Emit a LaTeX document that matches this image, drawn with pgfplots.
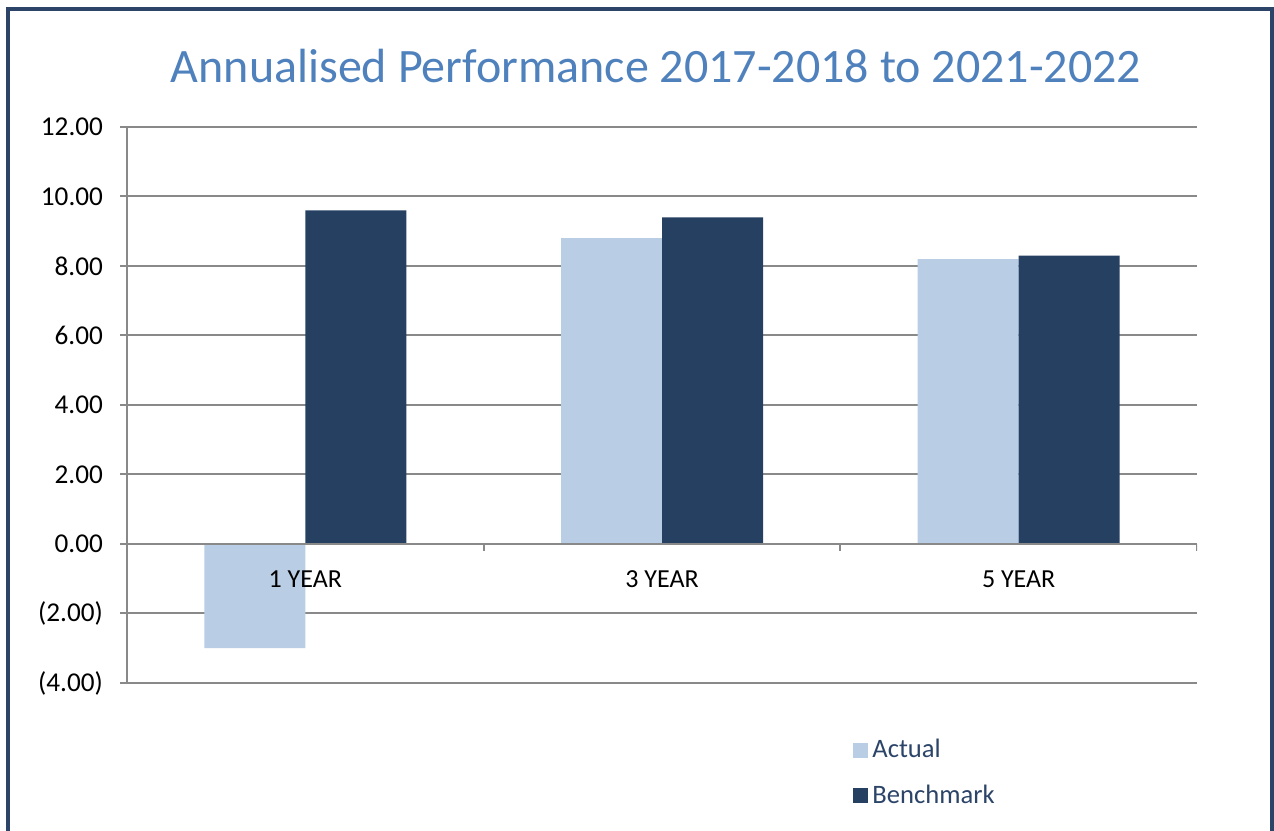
\documentclass[border=0pt]{standalone}
\usepackage{pgfplots}
\pgfplotsset{compat=1.18}
\usepackage{fontspec}
\setmainfont{Carlito}
\definecolor{actual}{HTML}{B9CDE5}
\definecolor{bench}{HTML}{254061}
\definecolor{gridgray}{HTML}{898989}
\definecolor{framec}{HTML}{2B4468}
\definecolor{titleblue}{HTML}{4F81BD}
\begin{document}
\begin{tikzpicture}
\path[use as bounding box] (0,0) rectangle (637pt,415pt);
\draw[framec, line width=2pt] (3.75pt,-5pt) -- (3.75pt,410.5pt) -- (636pt,410.5pt) -- (636pt,-5pt);
\node[titleblue, font=\fontsize{24}{29}\selectfont, anchor=base] at (328pt,373.5pt)
  {Annualised Performance 2017-2018 to 2021-2022};
\begin{axis}[
    at={(63.5pt,73.5pt)}, anchor=south west,
    scale only axis, width=535pt, height=278pt,
    xmin=-0.5, xmax=2.5, ymin=-4, ymax=12,
    ytick={-4,-2,...,12},
    yticklabels={(4.00),(2.00),0.00,2.00,4.00,6.00,8.00,10.00,12.00},
    xtick=\empty,
    axis x line=none, axis y line*=left,
    ymajorgrids,
    grid style={gridgray, line width=1pt},
    y axis line style={gridgray, line width=1pt},
    ytick style={gridgray, line width=1pt},
    tick align=outside, major tick length=3.5pt,
    yticklabel style={font=\fontsize{13.6}{16}\selectfont, black, xshift=-5pt},
    ybar=0pt, bar width=50.5pt,
    legend style={at={(0.6785,-0.0935)}, anchor=north west, draw=none, fill=none,
        inner sep=0pt, row sep=8pt, font=\fontsize{13.3}{16}\selectfont, text=framec,
        cells={anchor=west}},
    legend image code/.code={\fill[#1,draw=none] (0pt,-3.75pt) rectangle (7.5pt,3.75pt);},
]
\addplot[fill=actual, draw=none] coordinates {(0,-3.0) (1,8.8) (2,8.2)};
\addplot[fill=bench, draw=none] coordinates {(0,9.6) (1,9.4) (2,8.3)};
\legend{Actual, Benchmark}
\draw[gridgray, line width=1pt] (axis cs:-0.5,0) -- (axis cs:2.5,0);
\draw[gridgray, line width=1pt] (axis cs:0.5,0) -- ([yshift=-3.5pt]axis cs:0.5,0);
\draw[gridgray, line width=1pt] (axis cs:1.5,0) -- ([yshift=-3.5pt]axis cs:1.5,0);
\draw[gridgray, line width=1pt] (axis cs:2.5,0) -- ([yshift=-3.5pt]axis cs:2.5,0);
\node[anchor=base, yshift=-22pt, font=\fontsize{13}{15}\selectfont] at (axis cs:0,0) {1 YEAR};
\node[anchor=base, yshift=-22pt, font=\fontsize{13}{15}\selectfont] at (axis cs:1,0) {3 YEAR};
\node[anchor=base, yshift=-22pt, font=\fontsize{13}{15}\selectfont] at (axis cs:2,0) {5 YEAR};
\end{axis}
\end{tikzpicture}
\end{document}
